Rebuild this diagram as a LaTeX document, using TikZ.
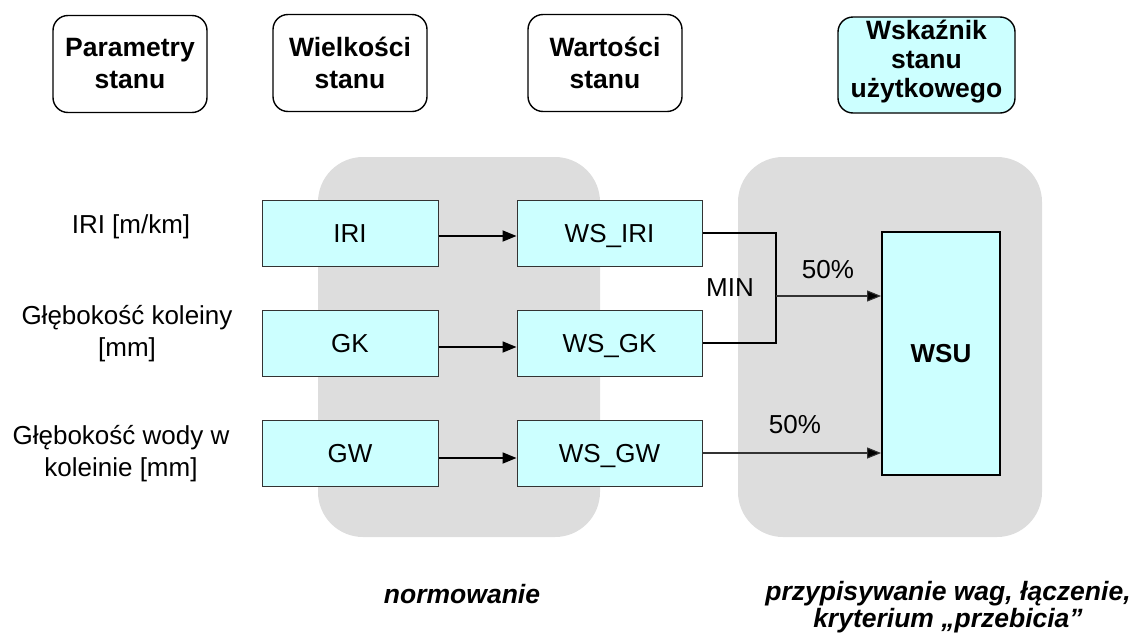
\documentclass[tikz,border=0pt]{standalone}
\usepackage{fontspec}
\setmainfont{Liberation Sans}
\usetikzlibrary{arrows.meta}
\definecolor{cyanfill}{HTML}{CCFFFF}
\definecolor{grayreg}{HTML}{DDDDDD}
\definecolor{boxline}{HTML}{333333}
\tikzset{
  txt/.style={font=\fontsize{26}{32}\selectfont, align=center, inner sep=0pt},
  hdr/.style={draw=black, line width=1.4pt, rounded corners=15pt, align=center,
    inner sep=0pt, minimum width=154pt, minimum height=97pt, font=\fontsize{26.5}{32}\selectfont\bfseries},
  hdrtxt/.style={align=center, inner sep=0pt, font=\fontsize{26.5}{29}\selectfont\bfseries},
  cbox/.style={draw=boxline, line width=1pt, fill=cyanfill, inner sep=0pt,
    minimum width=176pt, minimum height=66pt, text height=18.6pt, text depth=0pt,
    font=\fontsize{26}{30}\selectfont},
  wbox/.style={cbox, minimum width=185pt},
  region/.style={fill=grayreg, rounded corners=45pt},
  thick arrow/.style={line width=1.8pt, -{Triangle[length=14pt, width=11pt]}},
  thin arrow/.style={line width=1.1pt, draw=black!80, -{Triangle[length=14pt, width=11pt, fill=black]}},
  bottomtxt/.style={font=\fontsize{26.5}{27}\selectfont\bfseries\itshape, align=center, inner sep=0pt}
}
\begin{document}
\begin{tikzpicture}[x=1pt, y=-1pt]
\useasboundingbox (0,0) rectangle (1132,635);
% gray regions
\fill[region] (318,157) rectangle (600,537);
\fill[region] (738,157) rectangle (1042,537);
% headers
\node[hdr] (h1) at (130,64) {Parametry\\stanu};
\node[hdr] (h2) at (350,63) {Wielkości\\stanu};
\node[hdr] (h3) at (605,63) {Wartości\\stanu};
\node[hdr, fill=cyanfill, minimum width=177pt, minimum height=96pt] (h4) at (926.5,65) {};
\node[hdrtxt] (h4t) at (926.5,62) {Wskaźnik\\stanu\\użytkowego};
% left labels
\node[txt] (l1) at (131,227) {IRI [m/km]};
\node[txt] (l2) at (127,334) {Głębokość koleiny\\{}[mm]};
\node[txt] (l3) at (121,454) {Głębokość wody w\\koleinie [mm]};
% boxes
\node[cbox] (IRI) at (350,233) {IRI};
\node[cbox] (GK) at (350,343) {GK};
\node[cbox] (GW) at (350,453) {GW};
\node[wbox] (WSIRI) at (609.5,233) {WS\_IRI};
\node[wbox] (WSGK) at (609.5,343) {WS\_GK};
\node[wbox] (WSGW) at (609.5,453) {WS\_GW};
\node[draw=black, line width=1.8pt, fill=cyanfill, inner sep=0pt, minimum width=118pt, minimum height=243pt,
  text height=18.6pt, text depth=0pt, font=\fontsize{26}{30}\selectfont\bfseries] (WSU) at (941,353.5) {WSU};
% arrows
\draw[thick arrow] ([yshift=-3pt]IRI.east) -- ([yshift=-3pt]WSIRI.west);
\draw[thick arrow] ([yshift=-4pt]GK.east) -- ([yshift=-4pt]WSGK.west);
\draw[thick arrow] ([yshift=-5pt]GW.east) -- ([yshift=-5pt]WSGW.west);
\coordinate (jm) at (776,296);
\draw[line width=1.8pt] (WSIRI.east) -| (jm) |- (WSGK.east);
\draw[thin arrow] (jm) -- (jm -| WSU.west);
\draw[thin arrow] (WSGW.east) -- (WSGW.east -| WSU.west);
% labels
\node[txt] (min) at (730,288) {MIN};
\node[txt] (p1) at (828,270) {50\%};
\node[txt] (p2) at (795,425) {50\%};
% bottom
\node[bottomtxt] (b1) at (462,594) {normowanie};
\node[bottomtxt] (b2) at (948,607) {przypisywanie wag, łączenie,\\kryterium „przebicia”};
\end{tikzpicture}
\end{document}
